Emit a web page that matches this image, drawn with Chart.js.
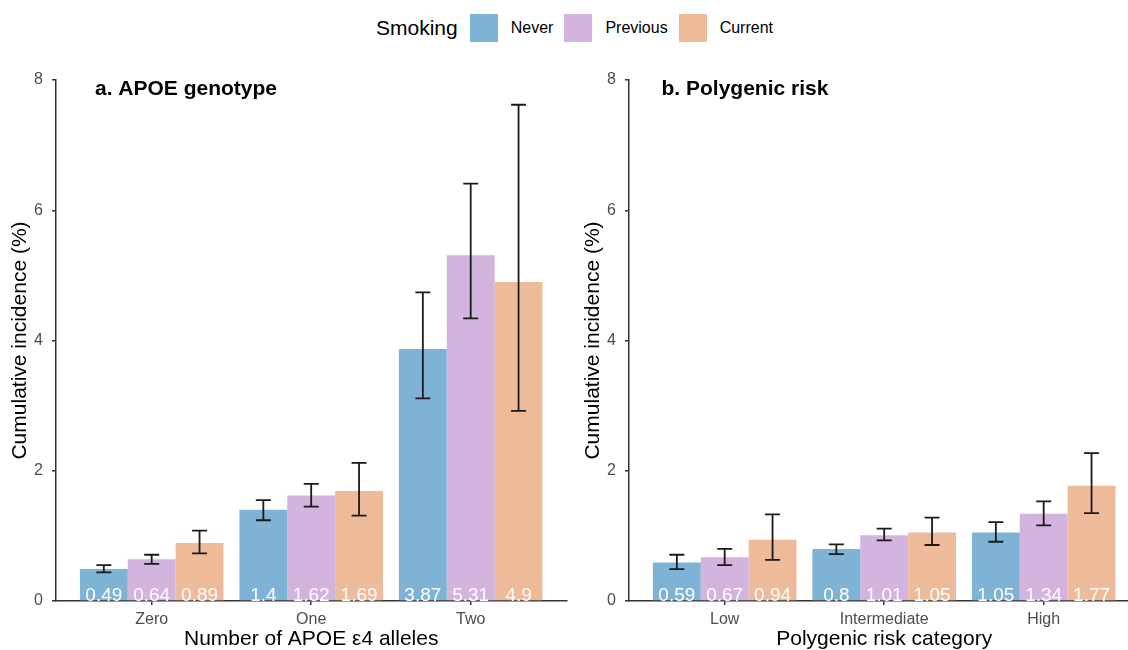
<!DOCTYPE html>
<html>
<head>
<meta charset="utf-8">
<script src="https://cdn.jsdelivr.net/npm/chart.js@4.4.1/dist/chart.umd.min.js"></script>
<style>
    body { margin: 0; width: 1128px; height: 650px; overflow: hidden; background: #fff; position: relative; font-family: 'Liberation Sans', Arial, sans-serif; }
    .panel { position: absolute; top: 0; width: 580px; height: 650px; }
    #legend { position: absolute; left: 376px; top: 14px; height: 28px; display: flex; align-items: center; }
    #legend .title { font-size: 21px; color: #000; margin-right: 12px; }
    #legend .box { width: 28px; height: 28px; margin-right: 13px; }
    #legend .label { font-size: 16px; color: #000; margin-right: 11px; }
</style>
</head>
<body>
<div id="legend"></div>
<div class="panel" style="left:0"><canvas id="apoeChart"></canvas></div>
<div class="panel" style="left:573px"><canvas id="prsChart"></canvas></div>
<script>
// Smoking groups
const smokingGroups = ['Never', 'Previous', 'Current'];
const smokingColors = ['#7FB3D5', '#D2B4DE', '#EDBB99'];

// a. APOE genotype
const apoeCategories = ['Zero', 'One', 'Two'];
const apoeNever = [0.49, 1.4, 3.87];
const apoeNeverLower = [0.44, 1.24, 3.11];
const apoeNeverUpper = [0.55, 1.55, 4.74];
const apoePrevious = [0.64, 1.62, 5.31];
const apoePreviousLower = [0.57, 1.45, 4.34];
const apoePreviousUpper = [0.71, 1.80, 6.41];
const apoeCurrent = [0.89, 1.69, 4.9];
const apoeCurrentLower = [0.73, 1.31, 2.92];
const apoeCurrentUpper = [1.08, 2.12, 7.62];

// b. Polygenic risk
const prsCategories = ['Low', 'Intermediate', 'High'];
const prsNever = [0.59, 0.8, 1.05];
const prsNeverLower = [0.49, 0.72, 0.91];
const prsNeverUpper = [0.71, 0.87, 1.21];
const prsPrevious = [0.67, 1.01, 1.34];
const prsPreviousLower = [0.55, 0.93, 1.16];
const prsPreviousUpper = [0.80, 1.11, 1.53];
const prsCurrent = [0.94, 1.05, 1.77];
const prsCurrentLower = [0.63, 0.86, 1.35];
const prsCurrentUpper = [1.33, 1.28, 2.27];

const yTicks = [0, 2, 4, 6, 8];

Chart.defaults.font.family = "'Liberation Sans', Arial, sans-serif";

// Legend (HTML, top centre)
const legend = document.getElementById('legend');
legend.innerHTML = '<span class="title">Smoking</span>' + smokingGroups.map((g, i) =>
    `<span class="box" style="background:${smokingColors[i]}"></span><span class="label">${g}</span>`
).join('');

// Error bars, value labels and panel title
const barExtras = {
    id: 'barExtras',
    afterDatasetsDraw(chart, args, opts) {
        const { ctx, chartArea, scales: { y } } = chart;
        ctx.save();
        // value labels at the bottom of each bar
        ctx.fillStyle = '#ffffff';
        ctx.font = "19px 'Liberation Sans', Arial, sans-serif";
        ctx.textAlign = 'center';
        ctx.textBaseline = 'alphabetic';
        chart.data.datasets.forEach((ds, i) => {
            chart.getDatasetMeta(i).data.forEach((bar, j) => {
                ctx.fillText(String(ds.data[j].y), bar.x, y.getPixelForValue(0) - 0.5);
            });
        });
        // error bars
        ctx.strokeStyle = '#1a1a1a';
        ctx.lineWidth = 1.8;
        chart.data.datasets.forEach((ds, i) => {
            chart.getDatasetMeta(i).data.forEach((bar, j) => {
                const lo = y.getPixelForValue(ds.lower[j]);
                const hi = y.getPixelForValue(ds.upper[j]);
                ctx.beginPath();
                ctx.moveTo(bar.x, lo); ctx.lineTo(bar.x, hi);
                ctx.moveTo(bar.x - 7.5, lo); ctx.lineTo(bar.x + 7.5, lo);
                ctx.moveTo(bar.x - 7.5, hi); ctx.lineTo(bar.x + 7.5, hi);
                ctx.stroke();
            });
        });
        // panel title
        ctx.fillStyle = '#000';
        ctx.font = "bold 21px 'Liberation Sans', Arial, sans-serif";
        ctx.textAlign = 'left';
        ctx.fillText(opts.text, chartArea.left + opts.offset, 95);
        ctx.restore();
    }
};

function makeChart(id, categories, series, xTitle, panelTitle, titleOffset) {
    const ctx = document.getElementById(id).getContext('2d');
    return new Chart(ctx, {
        type: 'bar',
        data: {
            datasets: series.map((s, i) => ({
                label: smokingGroups[i],
                data: s.values.map((v, k) => ({ x: k, y: v })),
                lower: s.lower,
                upper: s.upper,
                backgroundColor: smokingColors[i],
                borderWidth: 0,
                categoryPercentage: 0.9,
                barPercentage: 1.0
            }))
        },
        options: {
            responsive: true,
            maintainAspectRatio: false,
            animation: false,
            layout: { padding: { top: 80, left: 0, right: 13.6, bottom: 0 } },
            plugins: {
                legend: { display: false },
                tooltip: { enabled: false },
                barExtras: { text: panelTitle, offset: titleOffset }
            },
            scales: {
                x: {
                    type: 'linear',
                    min: -0.6,
                    max: 2.6,
                    bounds: 'data',
                    offset: false,
                    afterBuildTicks: scale => { scale.ticks = categories.map((c, i) => ({ value: i })); },
                    afterFit: scale => { scale.height = 49; },
                    ticks: {
                        callback: value => categories[value],
                        color: '#4D4D4D',
                        font: { size: 16 },
                        padding: 4.5,
                        maxRotation: 0,
                        autoSkip: false
                    },
                    grid: { offset: false, drawOnChartArea: false, drawTicks: true, tickLength: 4, color: '#333', lineWidth: 1.5 },
                    border: { color: '#333', width: 1.5 },
                    title: { display: true, text: xTitle, color: '#000', font: { size: 21, lineHeight: 1.0 }, padding: { top: 0, bottom: 0 } }
                },
                y: {
                    min: 0,
                    max: 8,
                    afterBuildTicks: scale => { scale.ticks = yTicks.map(v => ({ value: v })); },
                    afterFit: scale => { scale.width = 56; },
                    ticks: { color: '#4D4D4D', font: { size: 16 }, padding: 9 },
                    grid: { drawOnChartArea: false, drawTicks: true, tickLength: 4, color: '#333', lineWidth: 1.5 },
                    border: { color: '#333', width: 1.5 },
                    title: { display: true, text: 'Cumulative incidence (%)', color: '#000', font: { size: 21 }, padding: { top: 8, bottom: 0 } }
                }
            }
        },
        plugins: [barExtras]
    });
}

makeChart('apoeChart', apoeCategories, [
    { values: apoeNever, lower: apoeNeverLower, upper: apoeNeverUpper },
    { values: apoePrevious, lower: apoePreviousLower, upper: apoePreviousUpper },
    { values: apoeCurrent, lower: apoeCurrentLower, upper: apoeCurrentUpper }
], 'Number of APOE ε4 alleles', 'a. APOE genotype', 39);

makeChart('prsChart', prsCategories, [
    { values: prsNever, lower: prsNeverLower, upper: prsNeverUpper },
    { values: prsPrevious, lower: prsPreviousLower, upper: prsPreviousUpper },
    { values: prsCurrent, lower: prsCurrentLower, upper: prsCurrentUpper }
], 'Polygenic risk category', 'b. Polygenic risk', 32.5);
</script>
</body>
</html>
